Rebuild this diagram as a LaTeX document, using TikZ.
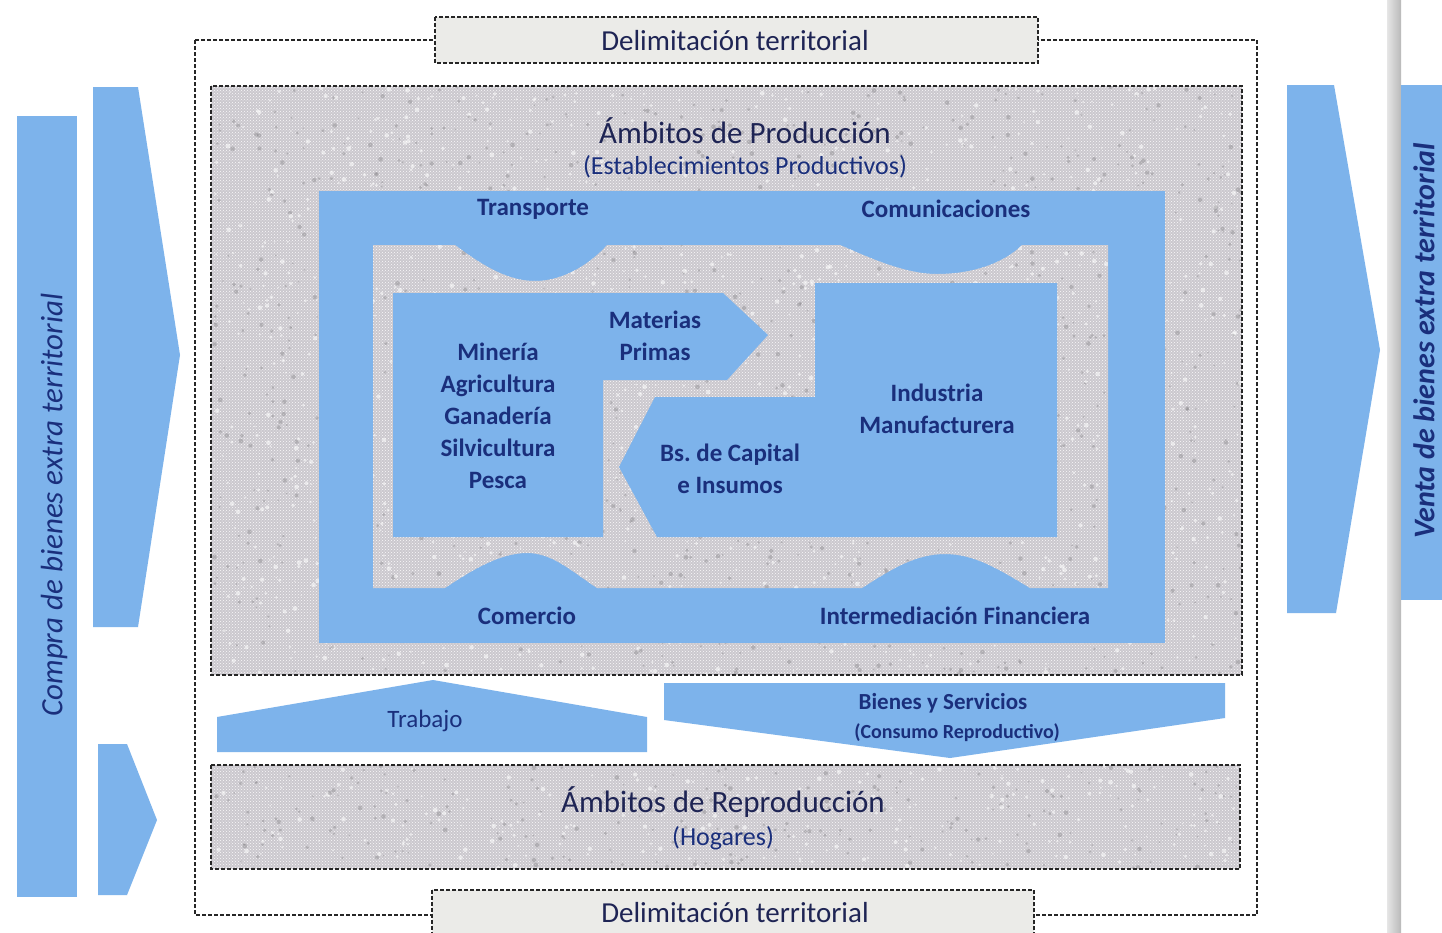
\documentclass[tikz,border=0pt]{standalone}
\usepackage{fontspec}
\setmainfont{Carlito}
\usetikzlibrary{patterns}
\definecolor{flow}{HTML}{7DB3EB}
\definecolor{ink}{HTML}{1A2F7C}
\definecolor{headink}{HTML}{1E2454}
\definecolor{grain}{HTML}{CBC8CE}
\definecolor{labelgray}{HTML}{EBEBE8}
% random light and dark specks inside a rectangle: x0, y0, width, height, count
\newcommand{\specks}[5]{%
  \foreach \k in {1,...,#5}{%
    \pgfmathsetmacro{\sx}{#1+rnd*#3}%
    \pgfmathsetmacro{\sy}{#2+rnd*#4}%
    \pgfmathsetmacro{\sr}{0.8+rnd*1.6}%
    \ifodd\k
      \fill[white,opacity=0.55] (\sx,\sy) circle[radius=\sr pt];
    \else
      \fill[black!40!grain,opacity=0.35] (\sx,\sy) circle[radius=\sr pt];
    \fi}}
% inner opening of the services ring
\newcommand{\holepath}{(373,245) -- (455,245)
  .. controls (478,262) and (505,281) .. (535,281)
  .. controls (565,281) and (592,262) .. (607,245)
  -- (840,245)
  .. controls (870,258) and (905,274) .. (937,274)
  .. controls (975,274) and (1005,262) .. (1022,245)
  -- (1108,245) -- (1108,588) -- (1030,588)
  .. controls (1000,570) and (975,554) .. (945,554)
  .. controls (915,554) and (890,570) .. (862,588)
  -- (597,588)
  .. controls (570,570) and (552,553) .. (527,553)
  .. controls (500,553) and (472,570) .. (445,588)
  -- (373,588) -- cycle}
\begin{document}
\begin{tikzpicture}[x=1pt,y=-1pt,
  flowshape/.style={fill=flow,draw=none},
  edge/.style={draw=black!85,line width=1.3pt,dash pattern=on 4pt off 2pt},
  granite/.style={fill=grain},
  grainover/.style={pattern=crosshatch dots,pattern color=white!90!grain},
  flowlabel/.style={text=ink,font=\bfseries\fontsize{25}{32}\selectfont,align=center,inner sep=0pt},
  headlabel/.style={text=headink,font=\fontsize{31}{34}\selectfont,inner sep=0pt},
  sublabel/.style={text=ink,font=\fontsize{26}{28}\selectfont,inner sep=0pt},
  bandlabel/.style={text=headink,font=\fontsize{29}{32}\selectfont,inner sep=0pt},
  sidelabel/.style={text=ink,rotate=90,inner sep=0pt}]
\pgfmathsetseed{4242}
\useasboundingbox (0,0) rectangle (1442,932);
\fill[white] (0,0) rectangle (1442,932);

% left-hand inflows
\fill[flowshape] (17,116) rectangle (77,897);
\fill[flowshape] (93,87) -- (138,87) -- (180,355) -- (138,627) -- (93,627) -- cycle;
\fill[flowshape] (98,744) -- (127,744) -- (157,820) -- (127,895) -- (98,895) -- cycle;
\node[sidelabel,font=\itshape\fontsize{31}{34}\selectfont] (compra) at (54,505) {Compra de bienes extra territorial};

% right-hand outflows and page edge
\shade[left color=gray!20,right color=gray!55] (1387,0) rectangle (1401,932);
\fill[flowshape] (1401,85) rectangle (1442,600);
\fill[flowshape] (1287,85) -- (1334,85) -- (1380,350) -- (1336,613) -- (1287,613) -- cycle;
\node[sidelabel,font=\bfseries\itshape\fontsize{30}{33}\selectfont] (venta) at (1424,341) {Venta de bienes extra territorial};

% territorial boundary
\draw[edge] (195,40) rectangle (1257,915);

% production area
\fill[granite] (211,86) rectangle (1242,675);
\fill[grainover] (211,86) rectangle (1242,675);
\begin{scope}
  \clip (211,86) rectangle (1242,675);
  \specks{211}{86}{1031}{589}{2400}
\end{scope}
\draw[edge] (211,86) rectangle (1242,675);
\node[headlabel] (prod) at (745,131) {Ámbitos de Producción};
\node[sublabel] (prodsub) at (745,167) {(Establecimientos Productivos)};

% ring of services
\fill[flowshape] (319,191) rectangle (1165,643);
\fill[granite] \holepath;
\fill[grainover] \holepath;
\begin{scope}
  \clip \holepath;
  \specks{373}{245}{735}{343}{1000}
\end{scope}

% primary sector with raw materials arrow
\fill[flowshape] (393,293) -- (723,293) -- (768,335) -- (727,380) -- (603,380)
  -- (603,537) -- (393,537) -- cycle;
% manufacturing with capital goods arrow
\fill[flowshape] (815,283) -- (1057,283) -- (1057,537) -- (657,537) -- (619,467)
  -- (655,397) -- (815,397) -- cycle;

\node[flowlabel] (transp) at (533,209) {Transporte};
\node[flowlabel] (comun) at (946,209) {Comunicaciones};
\node[flowlabel] (mat) at (655,336) {Materias\\Primas};
\node[flowlabel] (prim) at (498,416) {Minería\\Agricultura\\Ganadería\\Silvicultura\\Pesca};
\node[flowlabel] (indus) at (937,409) {Industria\\Manufacturera};
\node[flowlabel] (capital) at (730,469) {Bs.\ de Capital\\e Insumos};
\node[flowlabel] (comer) at (527,616) {Comercio};
\node[flowlabel] (finan) at (955,616) {Intermediación Financiera};

% flows between production and households
\fill[flowshape] (217,752) -- (217,717) -- (433,680) -- (647,717) -- (647,752) -- cycle;
\fill[flowshape] (664,683) -- (1225,683) -- (1225,718) -- (950,758) -- (664,720) -- cycle;
\node[text=ink,font=\fontsize{25}{28}\selectfont,inner sep=0pt] (trab) at (425,721) {Trabajo};
\node[flowlabel,font=\bfseries\fontsize{23}{26}\selectfont] (bienes) at (943,703) {Bienes y Servicios};
\node[flowlabel,font=\bfseries\fontsize{20}{22}\selectfont] (consumo) at (957,733) {(Consumo Reproductivo)};

% households
\fill[granite] (211,765) rectangle (1240,869);
\fill[grainover] (211,765) rectangle (1240,869);
\begin{scope}
  \clip (211,765) rectangle (1240,869);
  \specks{211}{765}{1029}{104}{500}
\end{scope}
\draw[edge] (211,765) rectangle (1240,869);
\node[headlabel] (repro) at (723,802) {Ámbitos de Reproducción};
\node[sublabel] (hog) at (723,838) {(Hogares)};

% boundary labels
\draw[edge,fill=labelgray] (435,17) rectangle (1038,63);
\node[bandlabel] (limtop) at (735,41) {Delimitación territorial};
\draw[edge,fill=labelgray] (432,890) rectangle (1034,945);
\node[bandlabel] (limbot) at (735,913) {Delimitación territorial};
\end{tikzpicture}
\end{document}
